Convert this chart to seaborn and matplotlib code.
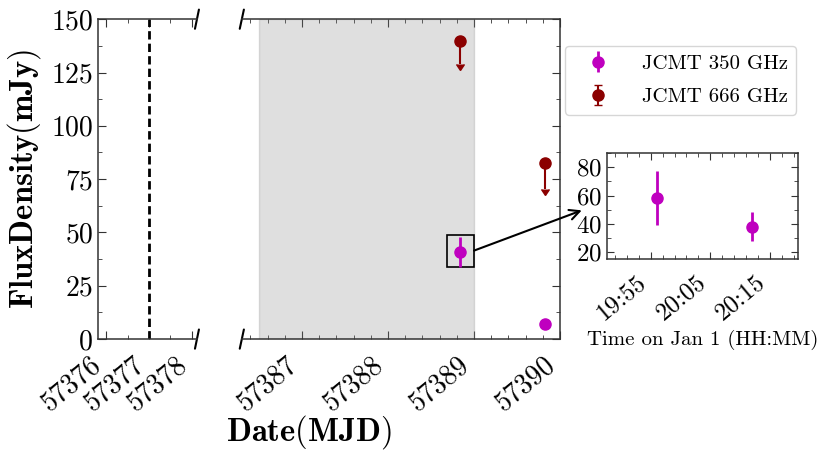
import numpy as np
import pandas as pd
import matplotlib
matplotlib.use('Agg')
import matplotlib.pyplot as plt
import matplotlib.dates as mdates
import matplotlib.transforms as mtransforms
from matplotlib.ticker import MultipleLocator, FixedLocator, FormatStrFormatter
from matplotlib.patches import Rectangle
import seaborn as sns

# data
mjd_350 = [57388.84, 57389.83]
flux_350 = [41, 7]
err_350 = [7, 1]

mjd_666 = [57388.84, 57389.83]
limit_666 = [140, 82.5]
arrow_666 = [11, 12]

event_mjd = 57377.0
shade_start, shade_end = 57386.5, 57389.0

inset_time = pd.to_datetime(['2016-01-01 19:56', '2016-01-01 20:12'])
inset_flux = [58, 38]
inset_err = [19, 10]

left_ticks = [57376, 57377, 57378]
mid_ticks = [57387, 57388, 57389, 57390]

sns.set_style('ticks')
plt.rcParams['font.family'] = ['cmr10', 'DejaVu Serif']
plt.rcParams['mathtext.fontset'] = 'cm'
plt.rcParams['axes.formatter.use_mathtext'] = True
plt.rcParams['axes.linewidth'] = 1.1
plt.rcParams['text.color'] = 'black'
plt.rcParams['axes.labelcolor'] = 'black'
plt.rcParams['xtick.labelcolor'] = 'black'
plt.rcParams['ytick.labelcolor'] = 'black'
plt.rcParams['axes.edgecolor'] = '0.2'
plt.rcParams['xtick.color'] = '0.2'
plt.rcParams['ytick.color'] = '0.2'

c350 = '#bf00bf'
c666 = '#8b0000'

fig = plt.figure(figsize=(8.31, 4.57), dpi=100)
ax_l = fig.add_axes([0.118, 0.258, 0.119, 0.700])
ax_m = fig.add_axes([0.291, 0.258, 0.383, 0.700])
ax_in = fig.add_axes([0.730, 0.433, 0.230, 0.232])

# push rotated tick labels a little lower like the reference
shift = mtransforms.ScaledTranslation(0, -0.07, fig.dpi_scale_trans)


def rotate_labels(ax):
    for lab in ax.get_xticklabels():
        lab.set_rotation(40)
        lab.set_ha('right')
        lab.set_transform(lab.get_transform() + shift)


# left panel
ax_l.axvline(event_mjd, color='k', ls=(0, (3, 1.5)), lw=2)
ax_l.set_xlim(57375.81, 57378.12)
ax_l.set_ylim(0, 150)
ax_l.xaxis.set_major_locator(FixedLocator(left_ticks))
ax_l.xaxis.set_major_formatter(FormatStrFormatter('%d'))
ax_l.xaxis.set_minor_locator(MultipleLocator(0.5))
ax_l.yaxis.set_major_locator(MultipleLocator(25))
ax_l.yaxis.set_minor_locator(MultipleLocator(12.5))
ax_l.yaxis.set_major_formatter(FormatStrFormatter('%d'))
sns.despine(ax=ax_l, top=False, right=True)
ax_l.tick_params(which='both', direction='in', top=True, right=False,
                 labelright=False, labelsize=20)
ax_l.tick_params(which='major', length=6)
ax_l.tick_params(which='minor', length=3)
ax_l.set_ylabel(r'$\mathbf{FluxDensity}(\mathbf{mJy})$', fontsize=23.5, labelpad=6)
rotate_labels(ax_l)

# middle panel
ax_m.axvspan(shade_start, shade_end, color='gray', alpha=0.25)
h350 = ax_m.errorbar(mjd_350, flux_350, yerr=err_350, fmt='o', color=c350,
                     ms=8, elinewidth=2, capsize=0, label='JCMT 350 GHz')
h666 = ax_m.errorbar(mjd_666, limit_666, yerr=arrow_666, uplims=True, fmt='o',
                     color=c666, ms=8, elinewidth=1.5, capsize=3, label='JCMT 666 GHz')
ax_m.add_patch(Rectangle((57388.69, 34), 0.31, 15, fill=False, ec='k', lw=1.2))
ax_m.set_xlim(57386.3, 57390.0)
ax_m.set_ylim(0, 150)
ax_m.xaxis.set_major_locator(FixedLocator(mid_ticks))
ax_m.xaxis.set_major_formatter(FormatStrFormatter('%d'))
ax_m.xaxis.set_minor_locator(MultipleLocator(0.2))
ax_m.yaxis.set_major_locator(MultipleLocator(25))
ax_m.yaxis.set_minor_locator(MultipleLocator(12.5))
sns.despine(ax=ax_m, top=False, right=False, left=True)
ax_m.tick_params(which='both', direction='in', top=True, right=True, left=False,
                 labelleft=False, labelright=False, labelsize=20)
ax_m.tick_params(which='major', length=6)
ax_m.tick_params(which='minor', length=3)
rotate_labels(ax_m)

# break marks
dy = 0.03
for ax, dx, xs in [(ax_l, 0.02, 1), (ax_m, 0.0065, 0)]:
    kw = dict(transform=ax.transAxes, color='k', lw=1.5, clip_on=False)
    ax.plot((xs - dx, xs + dx), (-dy, dy), **kw)
    ax.plot((xs - dx, xs + dx), (1 - dy, 1 + dy), **kw)

fig.text(309 / 831, 0.055, r'$\mathbf{Date}(\mathbf{MJD})$', fontsize=23.5, ha='center', va='center')

fig.legend(handles=[h350, h666], loc='upper left', bbox_to_anchor=(0.680, 0.899),
           borderaxespad=0, fontsize=15, frameon=True, handlelength=2.4,
           handletextpad=0.9, labelspacing=0.7)

# inset
ax_in.errorbar(inset_time, inset_flux, yerr=inset_err, fmt='o', color=c350,
               ms=8, elinewidth=2, capsize=0)
ax_in.set_xlim(pd.Timestamp('2016-01-01 19:47:36'), pd.Timestamp('2016-01-01 20:19:42'))
ax_in.set_ylim(15, 90)
ax_in.xaxis.set_major_locator(mdates.MinuteLocator(byminute=[55, 5, 15]))
ax_in.xaxis.set_minor_locator(mdates.MinuteLocator(byminute=range(1, 60, 2)))
ax_in.xaxis.set_major_formatter(mdates.DateFormatter('%H:%M'))
ax_in.yaxis.set_major_locator(MultipleLocator(20))
ax_in.yaxis.set_minor_locator(MultipleLocator(10))
ax_in.tick_params(which='both', direction='in', top=True, right=True, labelsize=18)
ax_in.tick_params(which='major', length=5)
ax_in.tick_params(which='minor', length=3)
rotate_labels(ax_in)
ax_in.set_xlabel('Time on Jan 1 (HH:MM)', fontsize=15)

ax_in.annotate('', xy=(-0.13, 0.46), xycoords='axes fraction',
               xytext=(57389.0, 41.5), textcoords=ax_m.transData,
               arrowprops=dict(arrowstyle='->', lw=1.5, color='k',
                               shrinkA=0, shrinkB=0, mutation_scale=18),
               annotation_clip=False)

fig.savefig('out.png', dpi=100)
